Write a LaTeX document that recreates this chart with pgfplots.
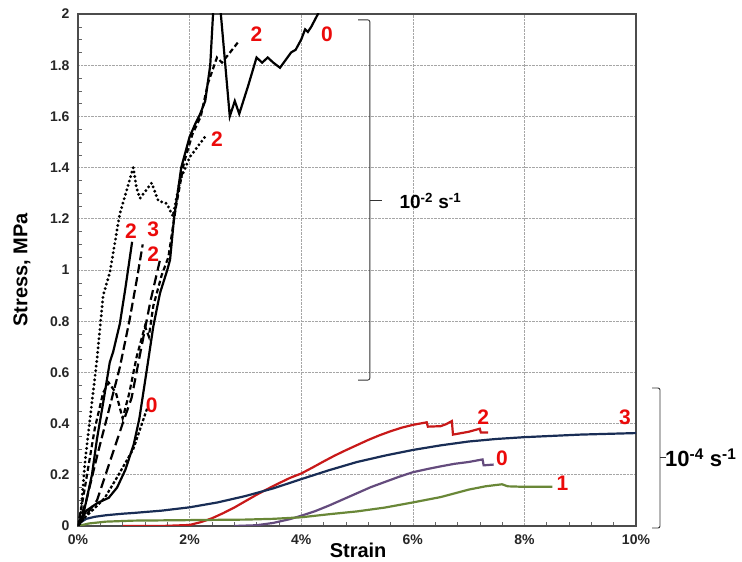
\documentclass[border=0pt]{standalone}
\usepackage{pgfplots}
\pgfplotsset{compat=1.18}
\usepackage{fontspec}
\setmainfont{Liberation Sans}
\definecolor{cred}{RGB}{200,25,25}
\definecolor{cnavy}{RGB}{25,45,85}
\definecolor{cpurple}{RGB}{100,75,125}
\definecolor{cgreen}{RGB}{105,135,55}
\definecolor{lred}{RGB}{235,10,10}
\begin{document}
\begin{tikzpicture}
\begin{axis}[name=ax,
  scale only axis, width=558pt, height=512pt,
  xmin=0, xmax=10, ymin=0, ymax=2,
  xtick={0,2,...,10}, ytick={0,0.2,...,2.01},
  minor x tick num=4, minor y tick num=3,
  xticklabel={\pgfmathprintnumber{\tick}\%},
  /pgf/number format/assume math mode=true,
  ticklabel style={font=\fontsize{14}{14}\selectfont\bfseries, text=black!85},
  xticklabel style={yshift=-5pt},
  yticklabel style={xshift=-5pt},
  tick pos=left, tick align=inside,
  major tick length=0pt, minor tick length=4pt,
  tick style={black!60, line width=0.5pt},
  grid=major, grid style={densely dotted, gray!70, line width=0.6pt},
  axis line style={line width=1.8pt, black!70},
  clip mode=individual,
  every axis plot/.append style={line width=2.2pt},
]
% 10^-4 curves
\addplot[cred] coordinates {(0.8,0) (1.5,0) (2.0,0.004) (2.2,0.015) (2.4,0.03) (2.6,0.05) (2.8,0.072) (3.0,0.097) (3.2,0.122) (3.4,0.145) (3.6,0.167) (3.8,0.188) (4.0,0.205) (4.2,0.228) (4.4,0.252) (4.6,0.275) (4.8,0.296) (5.0,0.316) (5.2,0.336) (5.4,0.354) (5.6,0.37) (5.8,0.384) (6.0,0.395) (6.2,0.403) (6.25,0.405) (6.27,0.388) (6.5,0.39) (6.6,0.398) (6.7,0.41) (6.72,0.357) (7.0,0.368) (7.2,0.38) (7.22,0.365) (7.35,0.365)};
\addplot[cnavy] coordinates {(0,0) (0.05,0.015) (0.15,0.028) (0.3,0.036) (0.5,0.042) (0.8,0.048) (1.0,0.051) (1.5,0.06) (2.0,0.073) (2.5,0.092) (3.0,0.117) (3.5,0.147) (4.0,0.183) (4.5,0.218) (5.0,0.25) (5.5,0.275) (6.0,0.297) (6.5,0.315) (7.0,0.33) (7.5,0.34) (8.0,0.347) (8.5,0.352) (9.0,0.357) (9.5,0.36) (10.0,0.363)};
\addplot[cpurple] coordinates {(2.8,0) (3.2,0.003) (3.5,0.012) (3.8,0.027) (4.0,0.04) (4.25,0.058) (4.5,0.08) (4.75,0.104) (5.0,0.128) (5.25,0.152) (5.5,0.172) (5.75,0.192) (6.0,0.21) (6.25,0.222) (6.5,0.233) (6.75,0.243) (7.0,0.25) (7.25,0.26) (7.27,0.237) (7.45,0.24)};
\addplot[cgreen] coordinates {(0,0) (0.2,0.01) (0.5,0.017) (1.0,0.021) (1.5,0.022) (2.0,0.023) (2.5,0.024) (3.0,0.025) (3.5,0.028) (4.0,0.034) (4.5,0.046) (5.0,0.057) (5.5,0.072) (6.0,0.092) (6.5,0.113) (7.0,0.142) (7.3,0.155) (7.6,0.163) (7.7,0.155) (8.0,0.153) (8.5,0.153)};
% 10^-2 curves
\addplot[black] coordinates {(0,0) (0.15,0.06) (0.35,0.09) (0.55,0.11) (0.7,0.15) (0.85,0.22) (1.0,0.32) (1.1,0.42) (1.24,0.62) (1.35,0.78) (1.47,0.91) (1.6,1.0) (1.65,1.04) (1.72,1.2) (1.85,1.4) (2.0,1.52) (2.1,1.57) (2.19,1.61) (2.28,1.66) (2.37,1.8) (2.42,2.0) (2.46,2.1) (2.52,2.1) (2.56,2.0) (2.72,1.6) (2.81,1.66) (2.89,1.61) (3.05,1.72) (3.2,1.83) (3.3,1.81) (3.4,1.83) (3.5,1.81) (3.62,1.79) (3.72,1.82) (3.82,1.85) (3.9,1.86) (4.0,1.9) (4.07,1.94) (4.12,1.93) (4.18,1.95) (4.3,2.0) (4.35,2.03)};
\addplot[black, dash pattern=on 5pt off 3pt] coordinates {(0,0) (0.1,0.12) (0.3,0.38) (0.45,0.52) (0.55,0.56) (0.68,0.52) (0.8,0.42) (0.92,0.52) (1.05,0.66) (1.2,0.78) (1.27,0.74) (1.35,0.86) (1.5,0.98) (1.62,1.05) (1.75,1.24) (1.9,1.42) (2.05,1.53) (2.2,1.6) (2.33,1.73) (2.49,1.83) (2.58,1.81) (2.87,1.89)};
\addplot[black, line width=3.2pt, line cap=round, dash pattern=on 0pt off 4.6pt] coordinates {(0,0) (0.05,0.05) (0.13,0.26) (0.27,0.52) (0.34,0.65) (0.45,0.9) (0.57,0.99) (0.75,1.22) (0.99,1.40) (1.05,1.32) (1.11,1.28) (1.32,1.34) (1.44,1.27) (1.59,1.26) (1.7,1.21) (1.83,1.35) (2.0,1.44) (2.31,1.53)};
\addplot[black] coordinates {(0,0) (0.1,0.05) (0.25,0.2) (0.34,0.34) (0.45,0.48) (0.57,0.64) (0.63,0.68) (0.75,0.79) (0.85,0.93) (0.97,1.11)};
\addplot[black, dash pattern=on 9pt off 4pt] coordinates {(0,0) (0.15,0.1) (0.35,0.28) (0.55,0.45) (0.75,0.62) (0.92,0.8) (1.06,0.97) (1.16,1.10)};
\addplot[black, dash pattern=on 10pt off 5pt] coordinates {(0,0) (0.34,0.1) (0.57,0.25) (0.8,0.4) (0.96,0.5) (1.12,0.68) (1.3,0.88) (1.47,1.04)};
\addplot[black, dash pattern=on 3pt off 2pt] coordinates {(0,0) (0.13,0.035) (0.3,0.07) (0.48,0.11) (0.7,0.19) (0.99,0.3) (1.1,0.37) (1.24,0.46)};
% red labels
\begin{scope}[every node/.style={text=lred, font=\fontsize{21}{21}\selectfont\bfseries}]
\node at (axis cs:3.2,1.92) {2};
\node at (axis cs:4.46,1.92) {0};
\node at (axis cs:2.49,1.51) {2};
\node at (axis cs:0.95,1.15) {2};
\node at (axis cs:1.35,1.16) {3};
\node at (axis cs:1.35,1.06) {2};
\node at (axis cs:1.32,0.47) {0};
\node at (axis cs:7.26,0.425) {2};
\node at (axis cs:9.8,0.425) {3};
\node at (axis cs:7.6,0.265) {0};
\node at (axis cs:8.68,0.168) {1};
\end{scope}
% brackets
\draw[line width=0.9pt, black!80, rounded corners=2pt] (axis cs:5.02,1.977) -- (axis cs:5.23,1.977) -- (axis cs:5.23,0.57) -- (axis cs:5.02,0.57);
\draw[line width=0.9pt, black!80] (axis cs:5.23,1.273) -- (axis cs:5.45,1.273);
\node[anchor=west, font=\fontsize{19}{19}\selectfont\bfseries] at (axis cs:5.7,1.27) {10\textsuperscript{-2} s\textsuperscript{-1}};
\draw[line width=0.9pt, black!80, rounded corners=2pt] (axis cs:10.29,0.539) -- (axis cs:10.43,0.539) -- (axis cs:10.43,-0.008) -- (axis cs:10.29,-0.008);
\draw[line width=0.9pt, black!80] (axis cs:10.43,0.266) -- (axis cs:10.53,0.266);
\node[anchor=west, inner sep=0pt, font=\fontsize{22}{22}\selectfont\bfseries] at (axis cs:10.52,0.266) {10\textsuperscript{-4} s\textsuperscript{-1}};
% axis labels
\node[anchor=base, font=\fontsize{20}{20}\selectfont\bfseries] at ([yshift=-32pt]axis cs:5.02,0) {Strain};
\node[rotate=90, anchor=center, font=\fontsize{20}{20}\selectfont\bfseries] at ([xshift=-56pt]rel axis cs:0,0.5) {Stress, MPa};
\end{axis}
\path (ax.south west) ++(-78pt,-34pt) rectangle ++(742pt,560pt);
\end{tikzpicture}
\end{document}
